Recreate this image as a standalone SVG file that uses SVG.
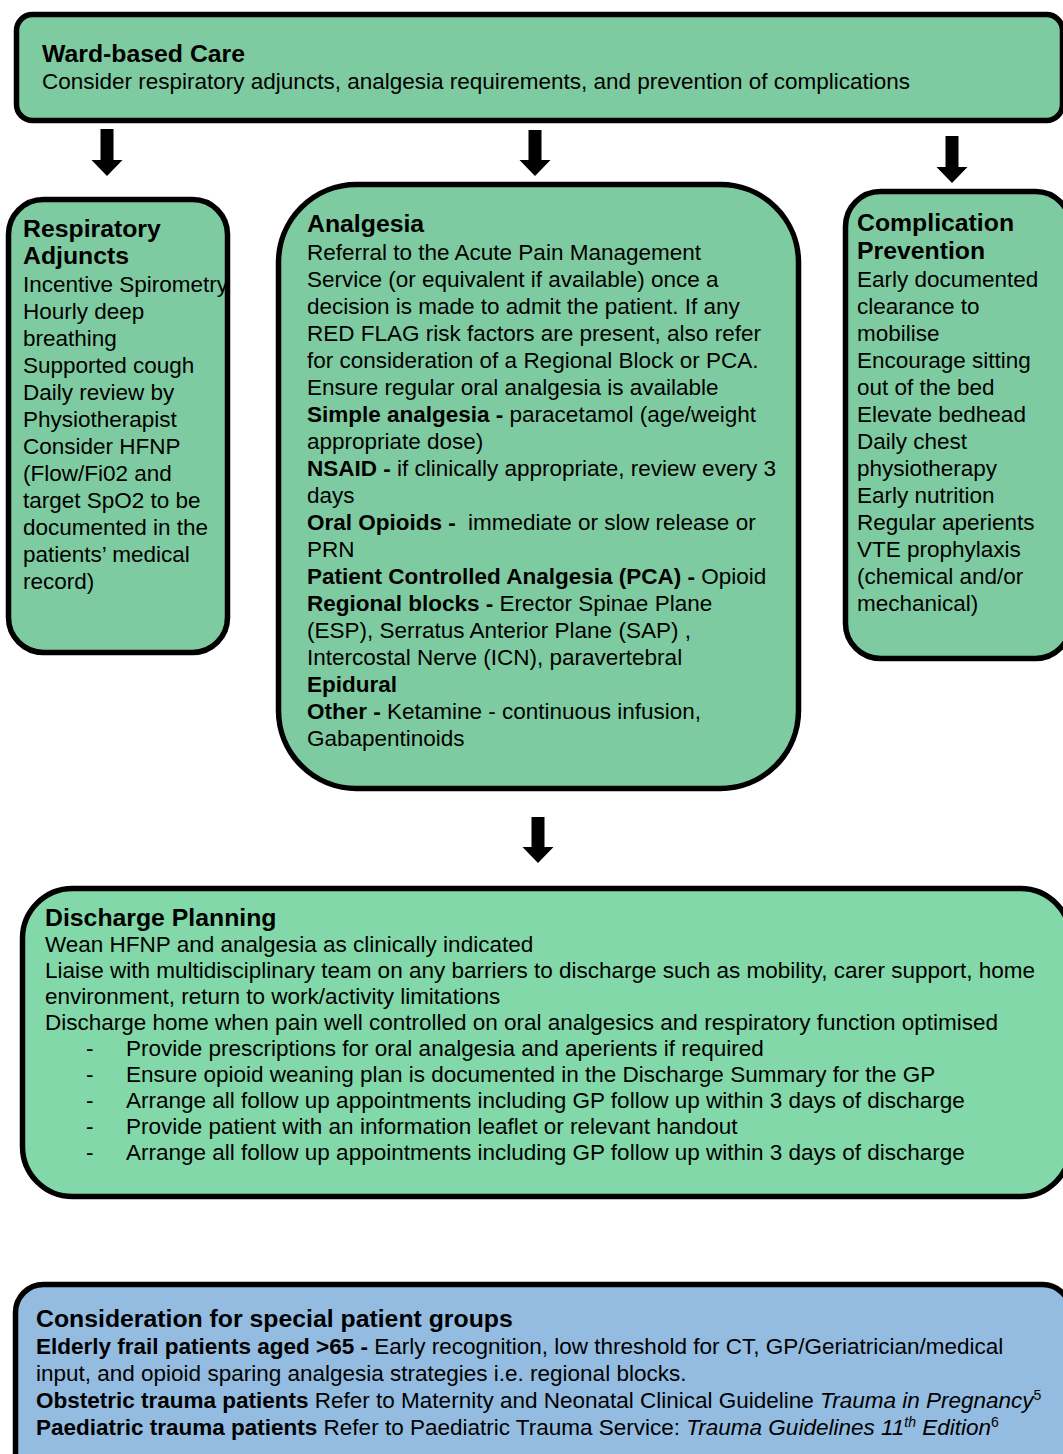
<svg xmlns="http://www.w3.org/2000/svg" width="1063" height="1454" viewBox="0 0 1063 1454">
<style>
.box{stroke:#000;stroke-width:5.5}
.g1{fill:#7FCBA1}
.g2{fill:#82D8A8}
.bl{fill:#93BCE0}
text{font-family:"Liberation Sans",Arial,sans-serif;fill:#000}
.t{font-size:24.8px;font-weight:bold}
.b{font-size:22.5px}
.bd{font-weight:bold}
.it{font-style:italic}
.arr{fill:#000}
</style>
<rect width="1063" height="1454" fill="#fff"/>
<g id="connectors">
<path class="arr" d="M100.5,129 h13 v31 h9 l-15.5,16 l-15.5,-16 h9 z"/>
<path class="arr" d="M528.5,130 h13 v30 h9 l-15.5,16 l-15.5,-16 h9 z"/>
<path class="arr" d="M945.5,136 h13 v31 h9 l-15.5,16 l-15.5,-16 h9 z"/>
<path class="arr" d="M531.5,817 h13 v30 h9 l-15.5,16 l-15.5,-16 h9 z"/>
</g>
<g id="ward">
<rect class="box g1" x="16.5" y="14.5" width="1046" height="106" rx="16"/>
<text class="t" x="42" y="62">Ward-based Care</text>
<text class="b" x="42" y="89">Consider respiratory adjuncts, analgesia requirements, and prevention of complications</text>
</g>
<g id="respiratory">
<rect class="box g1" x="8.5" y="199.5" width="219" height="453" rx="35"/>
<text class="t" x="23" y="237">Respiratory</text>
<text class="t" x="23" y="264">Adjuncts</text>
<text class="b" x="23">
<tspan x="23" y="292">Incentive Spirometry</tspan>
<tspan x="23" y="319">Hourly deep</tspan>
<tspan x="23" y="346">breathing</tspan>
<tspan x="23" y="373">Supported cough</tspan>
<tspan x="23" y="400">Daily review by</tspan>
<tspan x="23" y="427">Physiotherapist</tspan>
<tspan x="23" y="454">Consider HFNP</tspan>
<tspan x="23" y="481">(Flow/Fi02 and</tspan>
<tspan x="23" y="508">target SpO2 to be</tspan>
<tspan x="23" y="535">documented in the</tspan>
<tspan x="23" y="562">patients’ medical</tspan>
<tspan x="23" y="589">record)</tspan>
</text>
</g>
<g id="analgesia">
<rect class="box g1" x="278.5" y="184.5" width="520" height="604" rx="78"/>
<text class="t" x="307" y="232">Analgesia</text>
<text class="b">
<tspan x="307" y="260">Referral to the Acute Pain Management</tspan>
<tspan x="307" y="287">Service (or equivalent if available) once a</tspan>
<tspan x="307" y="314">decision is made to admit the patient. If any</tspan>
<tspan x="307" y="341">RED FLAG risk factors are present, also refer</tspan>
<tspan x="307" y="368">for consideration of a Regional Block or PCA.</tspan>
<tspan x="307" y="395">Ensure regular oral analgesia is available</tspan>
<tspan x="307" y="422"><tspan class="bd">Simple analgesia -</tspan> paracetamol (age/weight</tspan>
<tspan x="307" y="449">appropriate dose)</tspan>
<tspan x="307" y="476"><tspan class="bd">NSAID -</tspan> if clinically appropriate, review every 3</tspan>
<tspan x="307" y="503">days</tspan>
<tspan x="307" y="530"><tspan class="bd">Oral Opioids - </tspan><tspan dx="6">immediate or slow release or</tspan></tspan>
<tspan x="307" y="557">PRN</tspan>
<tspan x="307" y="584"><tspan class="bd">Patient Controlled Analgesia (PCA) -</tspan> Opioid</tspan>
<tspan x="307" y="611"><tspan class="bd">Regional blocks -</tspan> Erector Spinae Plane</tspan>
<tspan x="307" y="638">(ESP), Serratus Anterior Plane (SAP) ,</tspan>
<tspan x="307" y="665">Intercostal Nerve (ICN), paravertebral</tspan>
<tspan x="307" y="692" class="bd">Epidural</tspan>
<tspan x="307" y="719"><tspan class="bd">Other -</tspan> Ketamine - continuous infusion,</tspan>
<tspan x="307" y="746">Gabapentinoids</tspan>
</text>
</g>
<g id="complication">
<rect class="box g1" x="845.5" y="191.5" width="225" height="467" rx="35"/>
<text class="t" x="857" y="231">Complication</text>
<text class="t" x="857" y="259">Prevention</text>
<text class="b">
<tspan x="857" y="287">Early documented</tspan>
<tspan x="857" y="314">clearance to</tspan>
<tspan x="857" y="341">mobilise</tspan>
<tspan x="857" y="368">Encourage sitting</tspan>
<tspan x="857" y="395">out of the bed</tspan>
<tspan x="857" y="422">Elevate bedhead</tspan>
<tspan x="857" y="449">Daily chest</tspan>
<tspan x="857" y="476">physiotherapy</tspan>
<tspan x="857" y="503">Early nutrition</tspan>
<tspan x="857" y="530">Regular aperients</tspan>
<tspan x="857" y="557">VTE prophylaxis</tspan>
<tspan x="857" y="584">(chemical and/or</tspan>
<tspan x="857" y="611">mechanical)</tspan>
</text>
</g>
<g id="discharge">
<rect class="box g2" x="22.5" y="888.5" width="1048" height="308" rx="50"/>
<text class="t" x="45" y="926">Discharge Planning</text>
<text class="b">
<tspan x="45" y="952">Wean HFNP and analgesia as clinically indicated</tspan>
<tspan x="45" y="978">Liaise with multidisciplinary team on any barriers to discharge such as mobility, carer support, home</tspan>
<tspan x="45" y="1004">environment, return to work/activity limitations</tspan>
<tspan x="45" y="1030">Discharge home when pain well controlled on oral analgesics and respiratory function optimised</tspan>
</text>
<text class="b">
<tspan x="86" y="1056">-</tspan><tspan x="126" y="1056">Provide prescriptions for oral analgesia and aperients if required</tspan>
<tspan x="86" y="1082">-</tspan><tspan x="126" y="1082">Ensure opioid weaning plan is documented in the Discharge Summary for the GP</tspan>
<tspan x="86" y="1108">-</tspan><tspan x="126" y="1108">Arrange all follow up appointments including GP follow up within 3 days of discharge</tspan>
<tspan x="86" y="1134">-</tspan><tspan x="126" y="1134">Provide patient with an information leaflet or relevant handout</tspan>
<tspan x="86" y="1160">-</tspan><tspan x="126" y="1160">Arrange all follow up appointments including GP follow up within 3 days of discharge</tspan>
</text>
</g>
<g id="special">
<rect class="box bl" x="15.5" y="1284.5" width="1055" height="200" rx="28"/>
<text class="t" x="36" y="1327">Consideration for special patient groups</text>
<text class="b">
<tspan x="36" y="1354"><tspan class="bd">Elderly frail patients aged &gt;65 -</tspan> Early recognition, low threshold for CT, GP/Geriatrician/medical</tspan>
<tspan x="36" y="1381">input, and opioid sparing analgesia strategies i.e. regional blocks.</tspan>
<tspan x="36" y="1408"><tspan class="bd">Obstetric trauma patients</tspan> Refer to Maternity and Neonatal Clinical Guideline <tspan class="it">Trauma in Pregnancy</tspan><tspan font-size="14" dy="-8">5</tspan></tspan>
<tspan x="36" y="1435"><tspan class="bd">Paediatric trauma patients</tspan> Refer to Paediatric Trauma Service: <tspan class="it">Trauma Guidelines 11</tspan><tspan class="it" font-size="14" dy="-8">th</tspan><tspan class="it" dy="8"> Edition</tspan><tspan font-size="14" dy="-8">6</tspan></tspan>
</text>
</g>
</svg>
